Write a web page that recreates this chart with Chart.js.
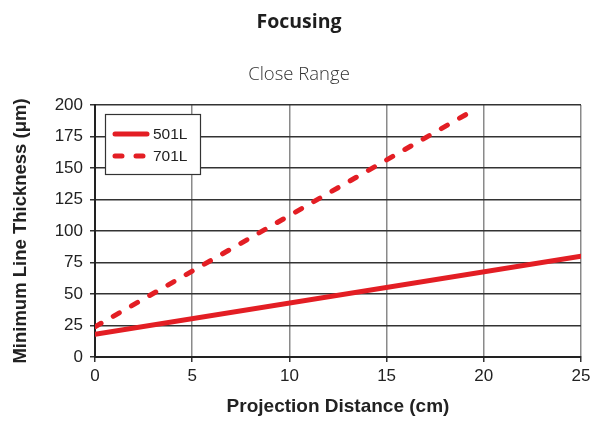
<!DOCTYPE html>
<html>
<head>
<meta charset="utf-8">
<script src="https://cdn.jsdelivr.net/npm/chart.js@4/dist/chart.umd.min.js"></script>
<style>
  html, body { margin: 0; padding: 0; background: #fff; }
  #wrap { width: 591px; height: 421px; }
</style>
</head>
<body>
<div id="wrap"><canvas id="focus"></canvas></div>
<script>
// ===== data =====
const seriesNames = ['501L', '701L'];
const distance501 = [0, 25];
const thickness501 = [18, 80];
const distance701 = [0, 19.6];
const thickness701 = [24, 197];
const xTicks = [0, 5, 10, 15, 20, 25];
const yTicks = [0, 25, 50, 75, 100, 125, 150, 175, 200];

const RED = '#e31e24';

function toPoints(xs, ys) {
  return xs.map((x, i) => ({ x: x, y: ys[i] }));
}

// titles + legend box inside the plot
const decorPlugin = {
  id: 'decor',
  afterDraw(chart) {
    const ctx = chart.ctx;
    ctx.save();
    ctx.textAlign = 'center';
    ctx.textBaseline = 'middle';
    ctx.fillStyle = '#1e1e1e';
    ctx.font = 'bold 19.5px "Open Sans"';
    ctx.fillText('Focusing', 299, 22);
    ctx.fillStyle = '#333';
    ctx.font = '300 18.5px "Open Sans"';
    ctx.fillText('Close Range', 299, 75);

    // legend
    const bx = 105, by = 114, bw = 95, bh = 60;
    ctx.fillStyle = '#fff';
    ctx.fillRect(bx, by, bw, bh);
    ctx.strokeStyle = '#333';
    ctx.lineWidth = 1.2;
    ctx.strokeRect(bx + 0.5, by + 0.5, bw, bh);
    chart.data.datasets.forEach((ds, i) => {
      const y = by + 20 + i * 22;
      ctx.beginPath();
      ctx.strokeStyle = ds.borderColor;
      ctx.lineWidth = ds.borderWidth;
      ctx.lineCap = 'round';
      ctx.setLineDash(ds.borderDash || []);
      ctx.moveTo(bx + 10, y);
      ctx.lineTo(bx + 42, y);
      ctx.stroke();
      ctx.setLineDash([]);
      ctx.fillStyle = '#222';
      ctx.textAlign = 'left';
      ctx.font = '15.5px "Liberation Sans", Arial';
      ctx.fillText(ds.label, bx + 48, y + 1);
    });
    ctx.restore();
  }
};

new Chart(document.getElementById('focus'), {
  type: 'line',
  data: {
    datasets: [
      {
        label: seriesNames[0],
        data: toPoints(distance501, thickness501),
        borderColor: RED,
        borderWidth: 5,
        borderCapStyle: 'round',
        pointRadius: 0,
        tension: 0
      },
      {
        label: seriesNames[1],
        data: toPoints(distance701, thickness701),
        borderColor: RED,
        borderWidth: 5,
        borderDash: [7, 14],
        borderCapStyle: 'round',
        pointRadius: 0,
        tension: 0
      }
    ]
  },
  options: {
    responsive: true,
    maintainAspectRatio: false,
    animation: false,
    layout: { padding: { top: 105, right: 1, left: 0, bottom: 0 } },
    plugins: {
      legend: { display: false },
      tooltip: { enabled: false }
    },
    scales: {
      x: {
        type: 'linear',
        min: 0,
        max: 25,
        afterFit(scale) { scale.height = 64; scale.paddingRight = 10; },
        afterBuildTicks(scale) { scale.ticks = xTicks.map(v => ({ value: v })); },
        grid: { color: '#8a8a8a', lineWidth: 1.5, tickColor: '#333', tickLength: 5 },
        border: { color: '#222', width: 2 },
        ticks: { color: '#222', font: { family: '"Liberation Sans", Arial', size: 17 }, padding: 4, maxRotation: 0 },
        title: {
          display: true,
          text: 'Projection Distance (cm)',
          color: '#222',
          font: { family: '"Liberation Sans", Arial', size: 19, weight: 'bold' },
          padding: { top: 0, bottom: 3 }
        }
      },
      y: {
        min: 0,
        max: 200,
        afterFit(scale) { scale.width = 95; },
        afterBuildTicks(scale) { scale.ticks = yTicks.map(v => ({ value: v })); },
        grid: { color: '#333', lineWidth: 1.5, tickColor: '#333', tickLength: 5 },
        border: { color: '#222', width: 2 },
        ticks: { color: '#222', font: { family: '"Liberation Sans", Arial', size: 17 }, padding: 7 },
        title: {
          display: true,
          text: 'Minimum Line Thickness (μm)',
          color: '#222',
          font: { family: '"Liberation Sans", Arial', size: 18.5, weight: 'bold' },
          padding: { top: 10, bottom: 0 }
        }
      }
    }
  },
  plugins: [decorPlugin]
});
</script>
</body>
</html>
